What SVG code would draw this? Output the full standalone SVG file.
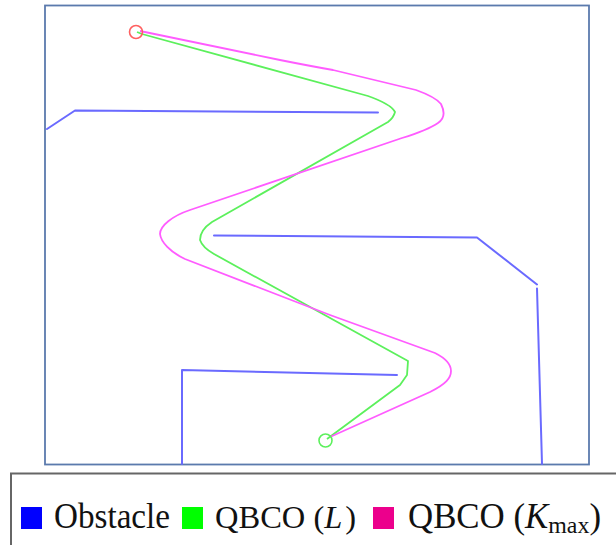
<svg xmlns="http://www.w3.org/2000/svg" width="616" height="545" viewBox="0 0 616 545">
<style>
.frame{fill:none;stroke:#5b7aad;stroke-width:1.8}
.legbox{fill:none;stroke:#666;stroke-width:2}
.obs{fill:none;stroke:#6a6aff;stroke-width:2;stroke-linejoin:round;stroke-linecap:round}
.pl{fill:none;stroke:#5cf05c;stroke-width:1.8;stroke-linejoin:round}
.pk{fill:none;stroke:#ff5cff;stroke-width:1.8;stroke-linejoin:round}
.lt{font-family:"Liberation Serif","Times New Roman",serif;font-size:35px;fill:#111}
</style>
<rect x="0" y="0" width="616" height="545" fill="#fff"/>
<rect class="frame" x="45" y="5.5" width="544" height="459"/>
<g id="obstacles">
<polyline class="obs" points="47,129 75,110.5 378,112.5"/>
<polyline class="obs" points="214,235.5 477,237.5 537,284.5"/>
<polyline class="obs" points="537,288.5 542,464"/>
<polyline class="obs" points="182,464 182,370 397,375"/>
</g>
<g id="connectors">
<path id="path-L" class="pl" d="M137,32 L142,34 L368,96 C385,102 393,108 395,112 C394,116 392,119 388,122 L212,222 C203,228 200,234 200,240 C202,246 207,250 214,254 L408,361 L407,375 L400,385 L327,439"/>
<path id="path-K" class="pk" d="M140,31 L280,60 C295,63 310,66 333,70 L416,90 C430,95 437,99 441,104 C445,112 444,119 438,123 C428,130 415,134 402,138 L190,210 C172,216 160,226 160,234 C161,242 170,252 185,259 L330,315 L435,353 C445,358 451,364 451,371 C451,378 446,384 430,392 L330,437"/>
</g>
<g id="start"><circle cx="136" cy="32" r="6.5" fill="none" stroke="#ff6060" stroke-width="1.6"/></g>
<g id="goal"><circle cx="325.5" cy="440.5" r="6.5" fill="none" stroke="#5cf05c" stroke-width="1.6"/></g>
<g id="legend">
<path class="legbox" d="M11,545 V473.5 H616"/>
<rect x="21" y="507" width="21" height="22" fill="#0000ff"/>
<text class="lt" x="54" y="528" textLength="116" lengthAdjust="spacingAndGlyphs">Obstacle</text>
<rect x="182" y="507" width="21" height="22" fill="#00ff00"/>
<text class="lt" x="215" y="528" style="font-size:32.5px">QBCO (<tspan font-style="italic">L</tspan><tspan dx="3">)</tspan></text>
<rect x="373" y="507" width="21" height="22" fill="#ec008c"/>
<text class="lt" x="408" y="528" textLength="193" lengthAdjust="spacingAndGlyphs">QBCO (<tspan font-style="italic">K</tspan><tspan font-size="24" dy="5">max</tspan><tspan dy="-5">)</tspan></text>
</g>
</svg>
